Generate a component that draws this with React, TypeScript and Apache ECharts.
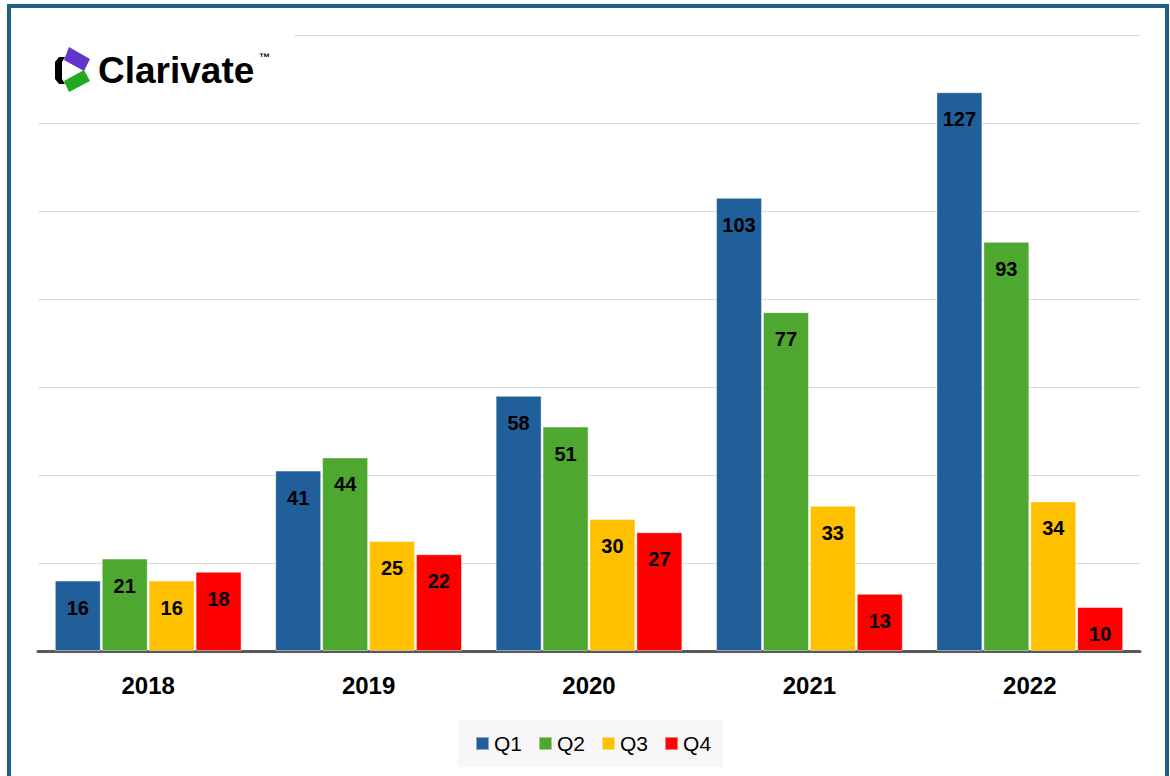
import React, { useEffect, useRef } from "react";
import * as echarts from "echarts";

const years = ["2018", "2019", "2020", "2021", "2022"];
const q1 = [16, 41, 58, 103, 127];
const q2 = [21, 44, 51, 77, 93];
const q3 = [16, 25, 30, 33, 34];
const q4 = [18, 22, 27, 13, 10];
const seriesNames = ["Q1", "Q2", "Q3", "Q4"];
const seriesColors = ["#215f9a", "#4ea72e", "#ffc000", "#ff0000"];

export default function App() {
  const ref = useRef<HTMLDivElement>(null);
  useEffect(() => {
    if (!ref.current) return;
    const chart = echarts.init(ref.current, undefined, { renderer: "svg" });
    const data = [q1, q2, q3, q4];
    const option: any = {
      animation: false,
      backgroundColor: "#ffffff",
      textStyle: { fontFamily: "Liberation Sans" },
      grid: { left: 38, right: 30, top: 35, bottom: 125, containLabel: false },
      legend: {
        data: seriesNames,
        left: 458,
        top: 720,
        backgroundColor: "#f7f7f7",
        padding: [13, 12, 13, 17],
        itemGap: 16,
        itemWidth: 13,
        itemHeight: 13,
        icon: "rect",
        textStyle: { fontSize: 21, color: "#000", fontFamily: "Liberation Sans" },
      },
      xAxis: {
        type: "category",
        data: years,
        axisLine: { lineStyle: { color: "#595959", width: 3 } },
        axisTick: { show: false },
        axisLabel: {
          margin: 22,
          fontSize: 24,
          fontWeight: "bold",
          color: "#000",
          fontFamily: "Liberation Sans",
        },
      },
      yAxis: {
        type: "value",
        min: 0,
        max: 140,
        interval: 20,
        axisLabel: { show: false },
        axisLine: { show: false },
        axisTick: { show: false },
        splitLine: { lineStyle: { color: "#d9d9d9", width: 1 } },
      },
      series: seriesNames.map((name, i) => ({
        name,
        type: "bar",
        data: data[i],
        barWidth: 46,
        barGap: "2%",
        itemStyle: {
          color: seriesColors[i],
          borderColor: "rgba(255,255,255,0.45)",
          borderWidth: 1,
        },
        label: {
          show: true,
          position: "insideTop",
          distance: 17,
          fontSize: 20,
          fontWeight: "bold",
          color: "#000",
          fontFamily: "Liberation Sans",
        },
      })),
      graphic: [
        {
          type: "rect",
          z: 100,
          shape: { x: 30, y: 28, width: 264, height: 14 },
          style: { fill: "#ffffff" },
        },
        {
          type: "rect",
          z: 100,
          shape: { x: 9, y: 6, width: 1158, height: 820 },
          style: { fill: "none", stroke: "#1f5f86", lineWidth: 4 },
        },
        {
          type: "polygon",
          z: 101,
          shape: { points: [[59, 57], [65, 57], [62, 62], [62, 79], [65, 84], [59, 84], [55, 79], [55, 62]] },
          style: { fill: "#000000" },
        },
        {
          type: "polygon",
          z: 101,
          shape: { points: [[69, 47], [90, 59], [84, 71], [64, 60]] },
          style: { fill: "#6236c8" },
        },
        {
          type: "polygon",
          z: 101,
          shape: { points: [[64, 81], [84, 70], [90, 81], [69, 92]] },
          style: { fill: "#22a822" },
        },
        {
          type: "text",
          z: 101,
          x: 98,
          y: 70,
          style: {
            text: "Clarivate",
            font: "bold 37px 'Liberation Sans'",
            fill: "#000",
            verticalAlign: "middle",
            align: "left",
          },
        },
        {
          type: "text",
          z: 101,
          x: 259,
          y: 51,
          style: {
            text: "™",
            font: "bold 11px 'Liberation Sans'",
            fill: "#000",
            verticalAlign: "top",
            align: "left",
          },
        },
      ],
    };
    chart.setOption(option);
    return () => chart.dispose();
  }, []);
  return (
    <div
      ref={ref}
      style={{ position: "absolute", left: 0, top: 0, width: 1170, height: 776 }}
    />
  );
}
